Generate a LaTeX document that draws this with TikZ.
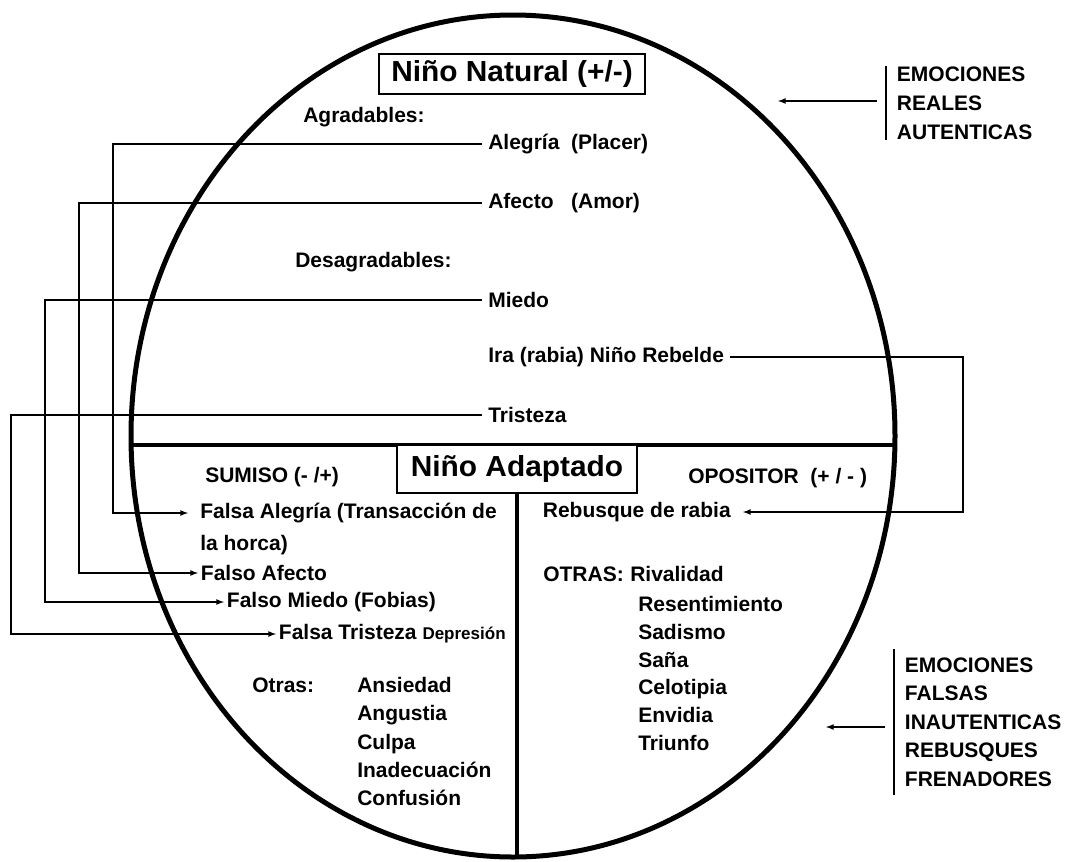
\documentclass[tikz,border=0pt]{standalone}
\usepackage{fontspec}
\setmainfont{Liberation Sans}
\newfontfamily\widesans[FakeStretch=1.03]{Liberation Sans}
\usetikzlibrary{positioning}
\tikzset{
	txt/.style={font=\bfseries\fontsize{15.75}{19}\selectfont, inner sep=2pt, anchor=west},
	col/.style={txt, inner xsep=4.5pt},
	lst/.style={txt, align=left, anchor=north west, inner sep=0pt},
	titlebox/.style={draw, line width=1.1pt, font=\widesans\bfseries\fontsize{21.75}{25}\selectfont, inner sep=0pt},
	link/.style={line width=1pt},
	heavy/.style={line width=2.6pt},
	emo/.style={txt, align=left, inner xsep=8pt}
}

\begin{document}
\begin{tikzpicture}[x=0.75pt, y=-0.75pt, >=latex]
	\useasboundingbox (0,0) rectangle (1071,861);
	
	% ellipse and dividers
	\draw[line width=3.75pt] (513,436) ellipse [x radius=286.5pt, y radius=315.75pt];
	\coordinate (divL) at (131,445);
	\coordinate (divR) at (895,445);
	\coordinate (bot) at (517,856);
	\draw[heavy] (divL) -- (divR);
	\node[titlebox, minimum width=180pt, minimum height=36pt, fill=white] (adapt) at (517,469) {Niño Adaptado};
	\draw[heavy] (adapt.south) -- (bot);
	\node[titlebox, minimum width=199.5pt, minimum height=30pt] (natural) at (512,74) {Niño Natural (+/-)};
	
	% upper half
	\node[txt, inner sep=0pt] (agrad) at (303,117) {Agradables:};
	\node[col] (alegria) at (482,144) {Alegría\ \ (Placer)};
	\node[col] (afecto) at (482,203) {Afecto\ \ \ (Amor)};
	\node[txt, inner sep=0pt] (desagrad) at (295,262) {Desagradables:};
	\node[col] (miedo) at (482,300) {Miedo};
	\node[col] (ira) at (482,357) {Ira (rabia) Niño Rebelde};
	\node[col] (tristeza) at (482,415) {Tristeza};
	
	% lower half
	\node[txt, inner sep=0pt] (sumiso) at (205,477) {SUMISO (- /+)};
	\node[txt, inner sep=0pt] (opositor) at (688,478) {OPOSITOR\ \ (+ / - )};
	\node[txt, inner xsep=9pt] (falegria) at (188,513) {Falsa Alegría (Transacción de};
	\node[txt, inner sep=0pt] (horca) at (200,545) {la horca)};
	\node[txt] (fafecto) at (198,573) {Falso Afecto};
	\node[txt] (fmiedo) at (224,602) {Falso Miedo (Fobias)};
	\node[txt] (ftristeza) at (276,634) {Falsa Tristeza {\fontsize{12.75}{15}\selectfont Depresión}};
	\node[txt, inner xsep=9pt, anchor=east] (rebusque) at (743,512) {Rebusque de rabia};
	
	\node[txt, inner sep=0pt] (otras) at (252,685) {Otras:};
	\node[lst, font=\bfseries\fontsize{15.75}{21.2}\selectfont] (otraslst) at (357,677) {Ansiedad\\Angustia\\Culpa\\Inadecuación\\Confusión};
	\node[txt, inner sep=0pt] (otrasop) at (543,574) {OTRAS:};
	\node[txt, inner sep=0pt] (rival) at (630,574) {Rivalidad};
	\node[lst, font=\bfseries\fontsize{15.75}{20.85}\selectfont] (oplst) at (638,596) {Resentimiento\\Sadismo\\Saña\\Celotipia\\Envidia\\Triunfo};
	
	% connectors
	\coordinate (kAl) at (113,0);
	\coordinate (kAf) at (79,0);
	\coordinate (kMi) at (45,0);
	\coordinate (kTr) at (11,0);
	\coordinate (kIr) at (963,0);
	\draw[link, ->] (alegria.west) -- (alegria.west -| kAl) |- (falegria.west);
	\draw[link, ->] (afecto.west) -- (afecto.west -| kAf) |- (fafecto.west);
	\draw[link, ->] (miedo.west) -- (miedo.west -| kMi) |- (fmiedo.west);
	\draw[link, ->] (tristeza.west) -- (tristeza.west -| kTr) |- (ftristeza.west);
	\draw[link, ->] (ira.east) -- (ira.east -| kIr) |- (rebusque.east);
	
	% side notes
	\node[emo, font=\bfseries\fontsize{15.75}{21.75}\selectfont, inner ysep=0pt] (reales) at (886,103) {EMOCIONES\\REALES\\AUTENTICAS};
	\node[emo, font=\bfseries\fontsize{15.75}{21.4}\selectfont, inner ysep=6pt] (falsas) at (894,722) {EMOCIONES\\FALSAS\\INAUTENTICAS\\REBUSQUES\\FRENADORES};
	\draw[link] (reales.north west) -- (reales.south west);
	\draw[link] (falsas.north west) -- (falsas.south west);
	\coordinate (tipR) at (778,101);
	\coordinate (tipF) at (826,727);
	\draw[link, ->] ([xshift=-6.75pt, yshift=1.5pt]reales.west) -- (tipR);
	\draw[link, ->] ([xshift=-6.75pt, yshift=-3.75pt]falsas.west) -- (tipF);
\end{tikzpicture}
\end{document}
